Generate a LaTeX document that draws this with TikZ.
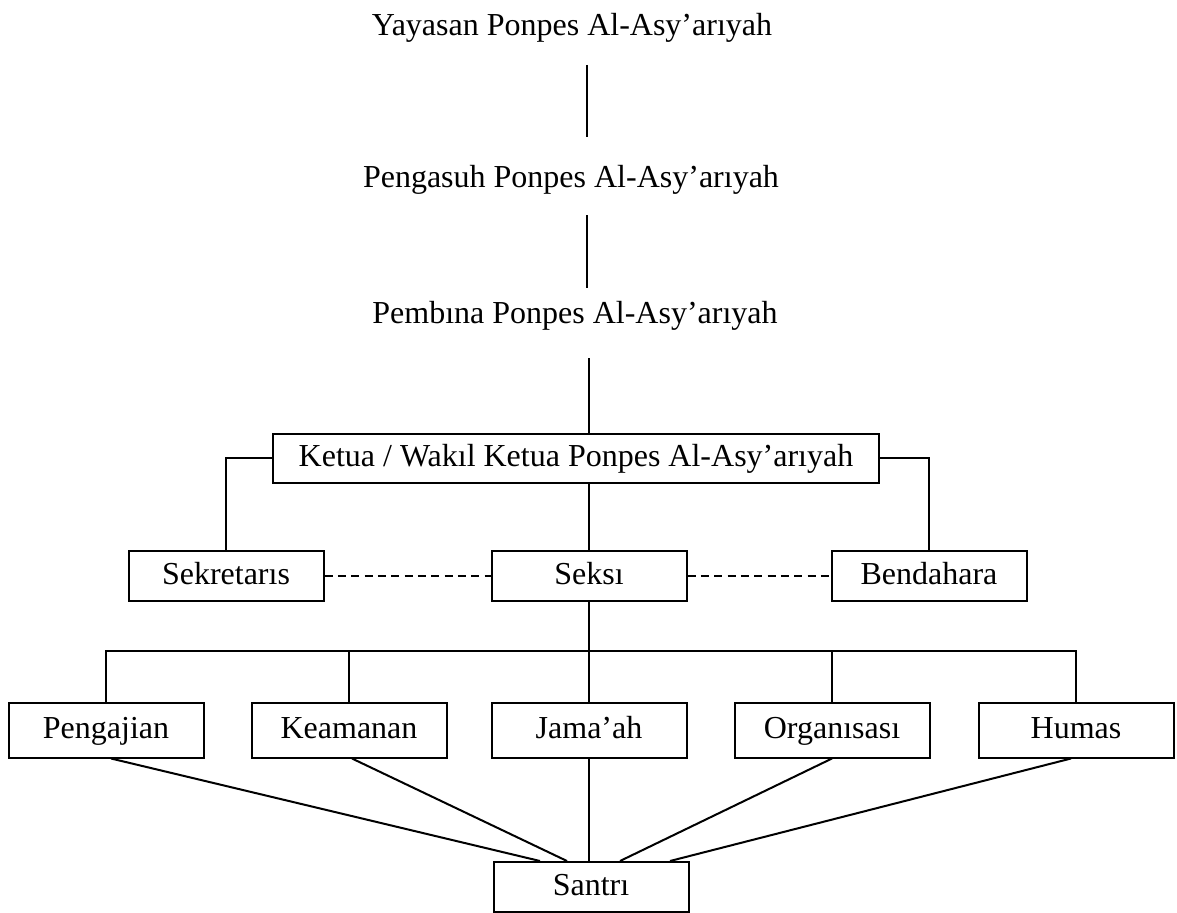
\documentclass[tikz,border=0pt]{standalone}
\usepackage{fontspec}
\setmainfont{Liberation Serif}
\begin{document}
\begin{tikzpicture}[x=0.75pt,y=-0.75pt,
  txt/.style={font=\fontsize{24}{28}\selectfont},
  box/.style={txt,draw,line width=1.5pt,inner sep=0pt,text height=17pt,text depth=5pt,minimum width=146.25pt,minimum height=37.5pt},
  tallbox/.style={box,minimum height=41.25pt},
  lbl/.style={txt,inner sep=0pt,anchor=base},
  conn/.style={line width=1.5pt},
  dconn/.style={line width=1.4pt,dash pattern=on 6pt off 4pt}]
\useasboundingbox (0,0) rectangle (1177,913);

% top titles
\node[lbl] (yay) at (572,36) {Yayasan Ponpes Al-Asy’arıyah};
\node[lbl] (pengasuh) at (571,187) {Pengasuh Ponpes Al-Asy’arıyah};
\node[lbl] (pembina) at (575,323) {Pembına Ponpes Al-Asy’arıyah};

% boxes
\node[box,minimum width=454.5pt,minimum height=36.75pt] (ketua) at (576,458) {Ketua / Wakıl Ketua Ponpes Al-Asy’arıyah};
\node[box] (sek) at (226,576) {Sekretarıs};
\node[box] (seksi) at (589,576) {Seksı};
\node[box] (bend) at (929,576) {Bendahara};

\node[tallbox] (peng) at (106,730) {Pengajian};
\node[tallbox] (kea) at (349,730) {Keamanan};
\node[tallbox] (jam) at (589,730) {Jama’ah};
\node[tallbox] (org) at (832,730) {Organısası};
\node[tallbox] (hum) at (1076,730) {Humas};

\node[box] (san) at (591,887) {Santrı};

% vertical lines between titles
\coordinate (a1) at (587,65);  \coordinate (a2) at (587,137);
\coordinate (b1) at (587,215); \coordinate (b2) at (587,288);
\coordinate (c1) at (589,358);
\draw[conn] (a1) -- (a2);
\draw[conn] (b1) -- (b2);
\draw[conn] (c1) -- (c1 |- ketua.north);

% ketua connections
\draw[conn] (ketua.west) -| (sek.north);
\draw[conn] (ketua.east) -| (bend.north);
\draw[conn] (seksi.north) -- (seksi.north |- ketua.south);

% dashed links
\draw[dconn] (sek.east) -- (seksi.west);
\draw[dconn] (seksi.east) -- (bend.west);

% bus to sections
\coordinate (bus) at (589,651);
\draw[conn] (seksi.south) -- (jam.north);
\draw[conn] (peng.north) |- (hum.north |- bus) -- (hum.north);
\draw[conn] (kea.north) -- (kea.north |- bus);
\draw[conn] (org.north) -- (org.north |- bus);

% lines to santri
\draw[conn] ([xshift=3.75pt]peng.south) -- ([xshift=-38.25pt]san.north);
\draw[conn] ([xshift=2.25pt]kea.south) -- ([xshift=-18pt]san.north);
\draw[conn] (jam.south) -- (jam.south |- san.north);
\draw[conn] (org.south) -- ([xshift=21.75pt]san.north);
\draw[conn] ([xshift=-3.75pt]hum.south) -- ([xshift=59.25pt]san.north);
\end{tikzpicture}
\end{document}
